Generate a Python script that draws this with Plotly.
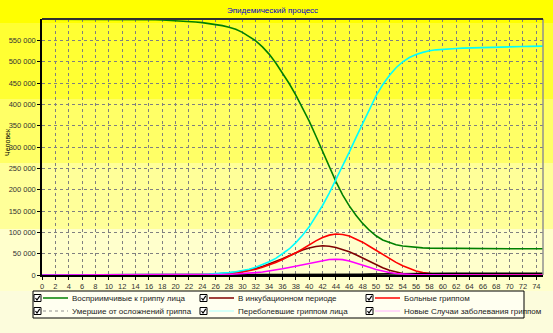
import plotly.graph_objects as go

days = list(range(0, 76))

susceptible = [600000]*14 + [599700, 599400, 599000, 598500, 597900, 597200, 596400, 595500,
    594500, 593200, 591800, 590000, 587700, 584800, 581000, 576000, 569000, 560000, 549000,
    535000, 518000, 497000, 474000, 449000, 422000, 393000, 361000, 326000, 290000, 254000,
    219000, 188000, 162000, 140000, 121000, 105000, 92000, 82000, 76000, 71000, 68000, 66000,
    64500, 63500, 63000, 62800, 62600, 61800] + [61500]*14

incubation = [0]*20 + [250, 380, 550, 800, 1100, 1600, 2300, 3200, 4500, 6200, 8500, 11500,
    15500, 20000, 25500, 31500, 38000, 45000, 52000, 58500, 63500, 67000, 68500, 67500, 64500,
    60000, 54500, 47500, 40000, 32000, 24000, 17000, 11000, 6500, 3500, 1800, 900, 400, 200,
    100] + [0]*16

sick = [0]*20 + [200, 300, 450, 650, 900, 1300, 1800, 2600, 3700, 5200, 7200, 10000, 13500,
    18000, 23500, 29500, 36500, 44000, 52000, 61000, 71000, 80000, 88000, 93500, 96000, 95000,
    91500, 85000, 77000, 67500, 57500, 48000, 38500, 29500, 21500, 15000, 9500, 5500, 3000,
    1600, 800, 400, 200, 100] + [0]*12

died = [0]*40 + [150, 250, 400, 550, 750, 950, 1200, 1450, 1700, 2000, 2300, 2600, 2900, 3200,
    3400, 3600, 3750, 3850, 3900] + [3950]*17

recovered = [0]*18 + [200, 300, 450, 650, 900, 1200, 1600, 2200, 3000, 4100, 5500, 7500, 10000,
    13500, 18000, 24000, 31000, 39000, 49000, 61000, 76000, 93000, 113000, 137000, 163000,
    192000, 223000, 255000, 288000, 322000, 356000, 389000, 420000, 446000, 468000, 486000,
    500000, 510000, 517000, 522000, 526000, 528000, 529500, 530500, 531300, 532000, 532600,
    533100, 533600, 534000, 534400, 534800, 535200, 535500, 535800, 536100, 536400, 536600]

new_cases = [0]*20 + [80, 120, 180, 260, 380, 550, 800, 1100, 1600, 2200, 3000, 4100, 5500,
    7200, 9300, 11800, 14600, 17700, 20800, 24000, 27500, 31000, 34000, 36300, 37000, 36000,
    33000, 28500, 23500, 18000, 13000, 9000, 6000, 3500, 2000, 1000, 500, 250, 120] + [0]*17

series_names = ["Восприимчивые к гриппу лица", "В инкубационном периоде", "Больные гриппом",
                "Умершие от осложнений гриппа", "Переболевшие гриппом лица",
                "Новые Случаи заболевания гриппом"]
series_values = [susceptible, incubation, sick, died, recovered, new_cases]
series_colors = ["#008000", "#800000", "#FF0000", "#000000", "#00FFFF", "#FF00FF"]

x_ticks = list(range(0, 76, 2))
y_ticks = list(range(0, 550001, 50000))
title_text = "Эпидемический процесс"
y_title = "Человек"

W, H = 553, 333
L, R, T, B = 42, 10, 19, 58
PW, PH = W - L - R, H - T - B

def px(x):
    return (x - L) / PW

def py(y):
    return (H - B - y) / PH

fig = go.Figure()
for name, vals, col in zip(series_names, series_values, series_colors):
    fig.add_trace(go.Scatter(x=days, y=vals, mode="lines", name=name,
                             line=dict(color=col, width=1.6), showlegend=False))

shapes = []
bands = [(0, 23, "#FFFF00"), (23, 99, "#FFFF33"), (99, 163, "#FFFF66"),
         (163, 229, "#FFFF99"), (229, 291, "#FFFFCC"), (291, 333, "#FCFCDC")]
for y0, y1, c in bands:
    shapes.append(dict(type="rect", xref="paper", yref="paper", x0=px(0), x1=px(W),
                       y0=py(y1), y1=py(y0), fillcolor=c, line=dict(width=0), layer="below"))
shapes.append(dict(type="line", xref="paper", yref="paper", x0=1, x1=1, y0=0, y1=1,
                   line=dict(color="#909090", width=1.5), layer="above"))
shapes.append(dict(type="line", xref="paper", yref="paper", x0=0, x1=1, y0=1, y1=1,
                   line=dict(color="#303030", width=2.2), layer="above"))

shapes.append(dict(type="rect", xref="paper", yref="paper", x0=px(33), x1=px(524),
                   y0=py(318), y1=py(291), fillcolor="#FFFFF0",
                   line=dict(color="#000000", width=1), layer="above"))

annotations = []
leg_lines = [("#008000", 1.5, "solid"), ("#800000", 1.5, "solid"), ("#FF0000", 1.5, "solid"),
             ("#909090", 1, "dot"), ("#A8FFFF", 1, "solid"), ("#FFB0FF", 1, "solid")]
col_starts = [34, 200, 366]
row_ys = [298, 311]
for i, name in enumerate(series_names):
    r, c = divmod(i, 3)
    x0 = col_starts[c]
    yy = row_ys[r]
    shapes.append(dict(type="rect", xref="paper", yref="paper", x0=px(x0), x1=px(x0 + 7),
                       y0=py(yy + 3.5), y1=py(yy - 3.5), fillcolor="#FFFFFF",
                       line=dict(color="#000000", width=1), layer="above"))
    shapes.append(dict(type="path", xref="paper", yref="paper",
                       path=f"M {px(x0+1.5)},{py(yy)} L {px(x0+3)},{py(yy+2)} L {px(x0+5.8)},{py(yy-2.2)}",
                       line=dict(color="#000000", width=1.2), layer="above"))
    col, wd, dash = leg_lines[i]
    shapes.append(dict(type="line", xref="paper", yref="paper", x0=px(x0 + 9), x1=px(x0 + 34),
                       y0=py(yy), y1=py(yy), line=dict(color=col, width=wd, dash=dash),
                       layer="above"))
    annotations.append(dict(text=name, xref="paper", yref="paper", x=px(x0 + 36), y=py(yy),
                            xanchor="left", yanchor="middle", showarrow=False,
                            font=dict(size=8, color="#1a1a1a", family="Liberation Sans")))

annotations.append(dict(text=title_text, xref="paper", yref="paper", x=px(272), y=py(10),
                        xanchor="center", yanchor="middle", showarrow=False,
                        font=dict(size=8, color="#0000CC", family="Liberation Sans")))
annotations.append(dict(text=y_title, xref="paper", yref="paper", x=px(7), y=py(142),
                        xanchor="center", yanchor="middle", showarrow=False, textangle=-90,
                        font=dict(size=7, color="#000000", family="Liberation Sans")))

fig.update_layout(
    width=W, height=H, margin=dict(l=L, r=R, t=T, b=B, pad=0),
    paper_bgcolor="#FFFFCC", plot_bgcolor="rgba(0,0,0,0)",
    separators=", ",
    shapes=shapes, annotations=annotations, showlegend=False,
    font=dict(family="Liberation Sans", size=8, color="#333333"),
)
fig.update_xaxes(range=[0, 75], tickvals=x_ticks, ticktext=[str(v) for v in x_ticks],
                 showgrid=True, gridcolor="#808080", griddash="3px,3px", gridwidth=1,
                 showline=True, linecolor="#000000", linewidth=1.5, ticks="outside",
                 ticklen=3, tickcolor="#000000", zeroline=False,
                 tickfont=dict(size=7.5, color="#333333"))
fig.update_yaxes(range=[0, 600300], tickvals=y_ticks, tickformat=",d",
                 showgrid=True, gridcolor="#808080", griddash="3px,3px", gridwidth=1,
                 showline=True, linecolor="#000000", linewidth=1.5, ticks="outside",
                 ticklen=3, tickcolor="#000000", zeroline=False,
                 tickfont=dict(size=7.5, color="#333333"))

fig.write_html("out.html")
